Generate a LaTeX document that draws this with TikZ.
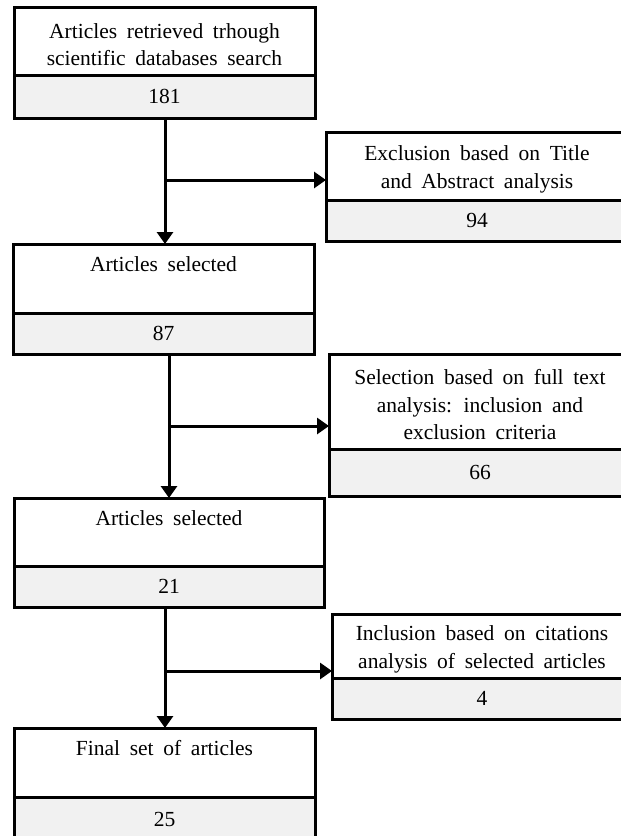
\documentclass[tikz,border=0pt]{standalone}
\usepackage{fontspec}
\setmainfont{Liberation Serif}
\usetikzlibrary{arrows.meta}
\definecolor{cellgray}{HTML}{F1F1F1}
\newcommand{\boxfont}{\fontsize{21.5pt}{27.5pt}\selectfont\spaceskip=0.45em plus 0.1em\relax}
% extra room above the first caption line, lowering the caption a little
\newcommand{\toproom}{\rule{0pt}{22pt}}
\begin{document}
\begin{tikzpicture}[x=1pt,y=-1pt,
  headbox/.style={draw=black, line width=3pt, fill=white, inner sep=0pt,
    outer sep=0pt, anchor=north west, align=center, font=\boxfont},
  countbox/.style={draw=black, line width=3pt, fill=cellgray, inner sep=0pt,
    outer sep=0pt, anchor=north west, font=\boxfont},
  flow/.style={line width=3pt, -{Triangle[length=12pt,width=16pt]}}]
\useasboundingbox (0,0) rectangle (621,836);

% main column
\node[headbox, minimum width=301pt, minimum height=68pt] (t1) at (14,7)
  {\toproom Articles retrieved trhough\\scientific databases search};
\node[countbox, minimum width=301pt, minimum height=43pt] (n1) at (t1.south west) {181};

\node[headbox, minimum width=301pt, minimum height=69pt] (t2) at (13,244)
  {\toproom Articles selected\\\strut};
\node[countbox, minimum width=301pt, minimum height=41pt] (n2) at (t2.south west) {87};

\node[headbox, minimum width=310pt, minimum height=68pt] (t3) at (14,498)
  {\toproom Articles selected\\\strut};
\node[countbox, minimum width=310pt, minimum height=41pt] (n3) at (t3.south west) {21};

\node[headbox, minimum width=301pt, minimum height=69pt] (t4) at (14,728)
  {\toproom Final set of articles\\\strut};
\node[countbox, minimum width=301pt, minimum height=45pt] (n4) at (t4.south west) {25};

% side column
\node[headbox, minimum width=302pt, minimum height=68pt] (r1) at (326,132)
  {\toproom Exclusion based on Title\\and Abstract analysis};
\node[countbox, minimum width=302pt, minimum height=41pt] (m1) at (r1.south west) {94};

\node[headbox, minimum width=302pt, minimum height=95pt] (r2) at (329,354)
  {\toproom Selection based on full text\\analysis: inclusion and\\exclusion criteria};
\node[countbox, minimum width=302pt, minimum height=47pt] (m2) at (r2.south west) {66};

\node[headbox, minimum width=300pt, minimum height=64pt] (r3) at (332,614)
  {\toproom Inclusion based on citations\\analysis of selected articles};
\node[countbox, minimum width=300pt, minimum height=41pt] (m3) at (r3.south west) {4};

% connectors
\coordinate (j1) at (165,180);
\coordinate (j2) at (169,426);
\coordinate (j3) at (165,671);
\draw[flow] (j1 |- n1.south) -- (j1 |- t2.north);
\draw[flow] (j1) -- (j1 -| r1.west);
\draw[flow] (j2 |- n2.south) -- (j2 |- t3.north);
\draw[flow] (j2) -- (j2 -| r2.west);
\draw[flow] (j3 |- n3.south) -- (j3 |- t4.north);
\draw[flow] (j3) -- (j3 -| r3.west);
\end{tikzpicture}
\end{document}
